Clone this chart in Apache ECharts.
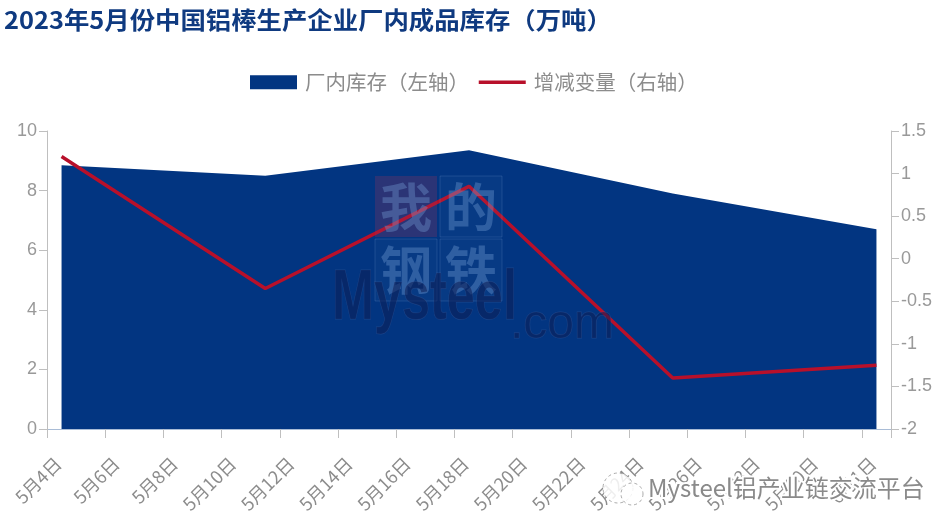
<!DOCTYPE html>
<html><head><meta charset="utf-8">
<style>html,body{margin:0;padding:0;background:#fff}#c{width:949px;height:524px}</style>
<script src="https://cdn.jsdelivr.net/npm/echarts@6/dist/echarts.min.js"></script>
</head><body><div id="c"></div>
<script>
const chartTitle = '2023年5月份中国铝棒生产企业厂内成品库存（万吨）';
const categories = ['5月4日','5月5日','5月6日','5月7日','5月8日','5月9日','5月10日','5月11日','5月12日','5月13日','5月14日','5月15日','5月16日','5月17日','5月18日','5月19日','5月20日','5月21日','5月22日','5月23日','5月24日','5月25日','5月26日','5月27日','5月28日','5月29日','5月30日','5月31日','6月1日'];
const stockValues = [8.85,null,null,null,null,null,null,8.5,null,null,null,null,null,null,9.35,null,null,null,null,null,null,7.9,null,null,null,null,null,null,6.7];
const changeValues = [1.2,null,null,null,null,null,null,-0.35,null,null,null,null,null,null,0.85,null,null,null,null,null,null,-1.4,null,null,null,null,null,null,-1.25];
const CJK = '"Noto Sans CJK SC","Noto Sans",sans-serif';
const chart = echarts.init(document.getElementById('c'), null, {renderer:'canvas'});
const axisLine = {show:true, lineStyle:{color:'#bfbfbf', width:1}};
const axisLabelGrey = {color:'#999999', fontSize:18, margin:10, fontFamily:'"Liberation Sans",sans-serif'};
const markFill = 'rgba(120,160,215,0.36)';
chart.setOption({
  animation:false,
  backgroundColor:'#fff',
  legend:{top:67,left:245,itemGap:8,itemWidth:47,itemHeight:14,
    textStyle:{color:'#8c8c8c',fontSize:20.5,fontFamily:CJK,padding:[0,0,0,3]},
    data:[{name:'厂内库存（左轴）',icon:'rect'},{name:'增减变量（右轴）',itemStyle:{opacity:0},lineStyle:{width:3.5,color:'#b8102a'}}]},
  grid:{left:47,right:58,top:131,bottom:95,containLabel:false},
  xAxis:{type:'category',data:categories,boundaryGap:true,
    axisLine:{show:true,lineStyle:{color:'#a9bcd6',width:1}},axisTick:{show:true,length:9,interval:1,alignWithLabel:false,lineStyle:{color:'#bfbfbf'}},
    axisLabel:{interval:1,rotate:45,color:'#8c8c8c',fontSize:18,fontFamily:CJK,margin:28,padding:[0,5,0,0]},
    splitLine:{show:false}},
  yAxis:[
    {type:'value',min:0,max:10,interval:2,position:'left',axisLine:axisLine,
      axisTick:{show:true,length:8,lineStyle:{color:'#bfbfbf'}},axisLabel:axisLabelGrey,splitLine:{show:false}},
    {type:'value',min:-2,max:1.5,interval:0.5,position:'right',axisLine:axisLine,
      axisTick:{show:true,length:8,lineStyle:{color:'#bfbfbf'}},axisLabel:axisLabelGrey,splitLine:{show:false}}
  ],
  series:[
    {name:'厂内库存（左轴）',type:'line',yAxisIndex:0,data:stockValues,connectNulls:true,symbol:'none',
      lineStyle:{width:0,color:'#023581'},itemStyle:{color:'#023581'},areaStyle:{color:'#023581',opacity:1}},
    {name:'增减变量（右轴）',type:'line',yAxisIndex:1,data:changeValues,connectNulls:true,symbol:'none',z:5,
      lineStyle:{width:3.5,color:'#b8102a'},itemStyle:{color:'#b8102a'}}
  ],
  graphic:[
    {type:'text',z:12,x:4,y:8,scaleX:1.08,style:{x:0,y:0,text:chartTitle,fill:'#0f3a80',font:'bold 23.5px "Noto Sans CJK SC"'}},
    {type:'rect',z:10,shape:{x:375,y:176,width:62,height:61},style:{fill:'rgba(150,50,90,0.28)'}},
    {type:'rect',z:10,shape:{x:440,y:176,width:62,height:61},style:{fill:'rgba(120,150,200,0.05)',stroke:'rgba(150,180,220,0.18)'}},
    {type:'rect',z:10,shape:{x:375,y:239,width:62,height:62},style:{fill:'rgba(120,150,200,0.05)',stroke:'rgba(150,180,220,0.18)'}},
    {type:'rect',z:10,shape:{x:440,y:239,width:62,height:62},style:{fill:'rgba(120,150,200,0.05)',stroke:'rgba(150,180,220,0.18)'}},
    {type:'text',z:11,style:{x:406,y:207,text:'我',align:'center',verticalAlign:'middle',fill:markFill,font:'bold 52px "Noto Sans CJK SC"'}},
    {type:'text',z:11,style:{x:471,y:207,text:'的',align:'center',verticalAlign:'middle',fill:markFill,font:'bold 52px "Noto Sans CJK SC"'}},
    {type:'text',z:11,style:{x:406,y:270,text:'钢',align:'center',verticalAlign:'middle',fill:markFill,font:'bold 52px "Noto Sans CJK SC"'}},
    {type:'text',z:11,style:{x:471,y:270,text:'铁',align:'center',verticalAlign:'middle',fill:markFill,font:'bold 52px "Noto Sans CJK SC"'}},
    {type:'text',z:11,x:332,y:335,scaleX:0.72,style:{x:0,y:0,text:'Mysteel',verticalAlign:'bottom',fill:'rgba(12,30,85,0.55)',stroke:'rgba(70,100,160,0.35)',lineWidth:1,font:'bold 70px "Liberation Sans"'}},
    {type:'text',z:11,style:{x:510,y:349,text:'.com',verticalAlign:'bottom',fill:'rgba(12,30,85,0.55)',stroke:'rgba(70,100,160,0.35)',lineWidth:1,font:'48px "Liberation Sans"'}},
    {type:'circle',z:11,shape:{cx:618,cy:488,r:15},style:{fill:'rgba(255,255,255,0.85)',stroke:'rgba(150,150,150,0.8)',lineWidth:1,lineDash:[3,3]}},
    {type:'circle',z:11,shape:{cx:632,cy:494,r:11},style:{fill:'rgba(255,255,255,0.85)',stroke:'rgba(150,150,150,0.8)',lineWidth:1,lineDash:[3,3]}},
    {type:'text',z:12,style:{x:648,y:488,text:'Mysteel铝产业链交流平台',verticalAlign:'middle',fill:'#8a8a8a',stroke:'#ffffff',lineWidth:4,font:'24px "Noto Sans CJK SC"'}}
  ]
});
</script></body></html>
